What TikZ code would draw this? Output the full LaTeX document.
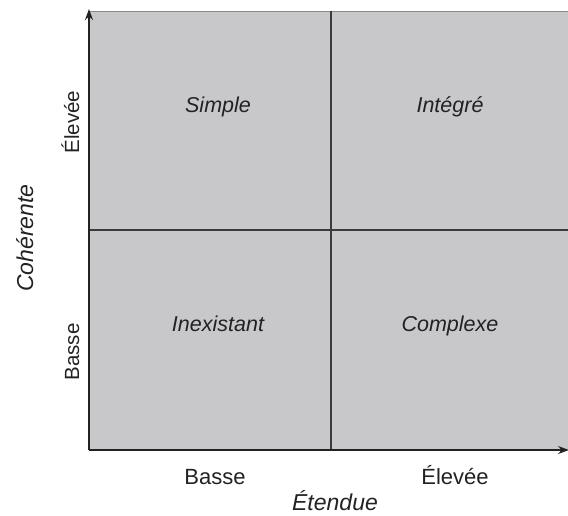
\documentclass[tikz,border=0pt]{standalone}
\usepackage{fontspec}
\setmainfont{Liberation Sans}
\usetikzlibrary{arrows.meta}
\definecolor{cellgray}{HTML}{C8C8CA}
\definecolor{axisc}{HTML}{222222}
\definecolor{midc}{HTML}{3A3A3A}
\definecolor{topc}{HTML}{8A8A8A}
\begin{document}
\begin{tikzpicture}[x=1pt,y=-1pt,
  celltxt/.style={inner sep=0pt, anchor=base, font=\fontsize{21.5}{26}\selectfont\itshape, text=axisc},
  ticktxt/.style={inner sep=0pt, anchor=base, font=\fontsize{22}{26}\selectfont, text=axisc},
  vticktxt/.style={inner sep=0pt, anchor=base, rotate=90, font=\fontsize{20.5}{24}\selectfont, text=axisc},
  titletxt/.style={inner sep=0pt, anchor=base, font=\fontsize{23}{27}\selectfont\itshape, text=axisc},
  axisline/.style={draw=axisc, line width=1.3pt, -{Stealth[length=11pt,width=8pt]}},
  midline/.style={draw=midc, line width=1.1pt}]
\useasboundingbox (0,0) rectangle (568,515);
\fill[cellgray] (89,11) rectangle (568,450);
\draw[topc, line width=0.8pt] (89,11) -- (568,11);
\coordinate (O) at (89,450);
\coordinate (Ytop) at (89,9);
\coordinate (Xend) at (569,450);
\coordinate (mt) at (331,11);
\coordinate (mb) at (331,450);
\coordinate (ml) at (89,230);
\coordinate (mr) at (568,230);
\draw[midline] (mt) -- (mb);
\draw[midline] (ml) -- (mr);
\draw[axisline] (O) -- (Ytop);
\draw[axisline] (O) -- (Xend);
\node[celltxt] (simple) at (218,112) {Simple};
\node[celltxt] (integre) at (450,112) {Intégré};
\node[celltxt] (inex) at (218,331) {Inexistant};
\node[celltxt] (complexe) at (450,331) {Complexe};
\node[ticktxt] (xb) at (215,484) {Basse};
\node[ticktxt] (xe) at (455,484) {Élevée};
\node[titletxt] (xt) at (335,510) {Étendue};
\node[vticktxt] (ye) at (79,122) {Élevée};
\node[vticktxt] (yb) at (79,352) {Basse};
\node[titletxt, rotate=90] (yt) at (33,238) {Cohérente};
\end{tikzpicture}
\end{document}
